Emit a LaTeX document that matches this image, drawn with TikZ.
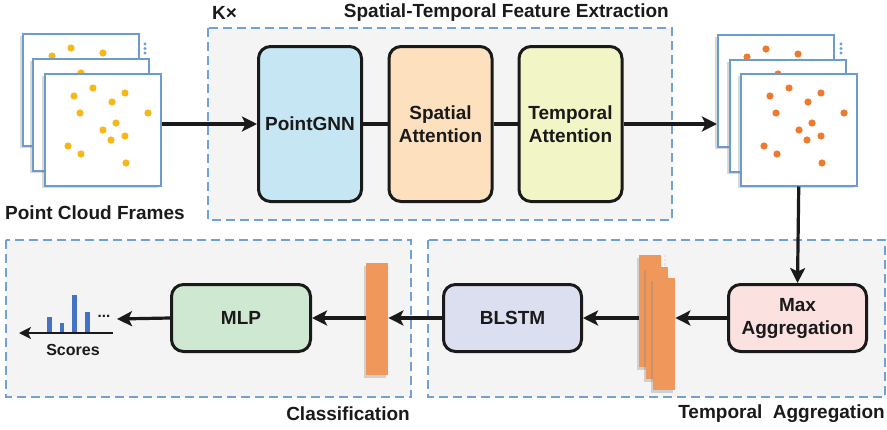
\documentclass[tikz,border=0pt]{standalone}
\usepackage{fontspec}
\setmainfont{Liberation Sans}
\usetikzlibrary{arrows.meta,shadows}
\definecolor{grpblue}{HTML}{6FA3D8}
\definecolor{grpfill}{HTML}{F4F4F4}
\definecolor{framebl}{HTML}{6C9CCF}
\definecolor{ptyel}{HTML}{F7B718}
\definecolor{ptora}{HTML}{EE7A30}
\definecolor{barora}{HTML}{F0975B}
\definecolor{scbar}{HTML}{4472C4}
\definecolor{cgnn}{HTML}{C5E6F2}
\definecolor{csatt}{HTML}{FDE1BF}
\definecolor{ctatt}{HTML}{F2F5C5}
\definecolor{cmlp}{HTML}{CFE8D1}
\definecolor{cblstm}{HTML}{DCDFF0}
\definecolor{cmax}{HTML}{FCE1E1}
\definecolor{ink}{HTML}{1A1A1A}
\tikzset{
  group/.style={draw=grpblue, fill=grpfill, line width=1.3pt, dash pattern=on 9pt off 5pt},
  block/.style={draw=ink, line width=3pt, rounded corners=12pt, align=center,
    text=ink, font=\fontsize{19}{23}\selectfont\bfseries},
  frame/.style={draw=framebl, line width=1.5pt, fill=white, minimum width=116pt,
    minimum height=112pt, inner sep=0pt, anchor=north west,
    drop shadow={shadow xshift=-2.5pt, shadow yshift=-2.5pt, opacity=0.3}},
  feat/.style={fill=barora, minimum width=22pt, minimum height=112pt, inner sep=0pt,
    anchor=north west, drop shadow={shadow xshift=-2.5pt, shadow yshift=-2.5pt, opacity=0.3}},
  arr/.style={draw=ink, line width=3.2pt, -{Stealth[length=15pt,width=15pt,inset=3.5pt]}},
  lbl/.style={text=ink, font=\fontsize{19}{22}\selectfont\bfseries, inner sep=0pt}
}
\newcommand\cloudpts[2]{%
  \foreach \a/\b in {30/23,49/15,81/20,68/29,36/40,104/40,72/50,59/57,81/63,67/67,24/73,37/81,82/90}
    \fill[#2] ([shift={(\a,\b)}]#1.north west) circle (3.6pt);}
\begin{document}
\begin{tikzpicture}[x=1pt, y=-1pt]
  \useasboundingbox (0,0) rectangle (887,429);
  \draw[group] (208,28) rectangle (672,220);
  \draw[group] (6,240) rectangle (411,397);
  \draw[group] (428,240) rectangle (885,397);

  \node[lbl, anchor=west] (kx) at (212,13) {K×};
  \node[lbl, anchor=east] (stfe) at (669,13) {Spatial-Temporal Feature Extraction};
  \node[lbl, anchor=west] (pcf) at (5,213) {Point Cloud Frames};
  \node[lbl, anchor=east] (cls) at (410,414) {Classification};
  \node[lbl, anchor=east] (tag) at (885,414) {Temporal\ \ Aggregation};

  \foreach \i/\x/\y in {1/22/33,2/32/58,3/44/73} {
    \node[frame] (fl\i) at (\x,\y) {};
    \cloudpts{fl\i}{ptyel}
  }
  \foreach \i/\x/\y in {1/717/34,2/729/59,3/740/73} {
    \node[frame] (fr\i) at (\x,\y) {};
    \cloudpts{fr\i}{ptora}
  }
  \foreach \y in {44,48.5,53} {
    \fill[framebl] (145,\y) circle (1.6pt);
    \fill[framebl] (841,\y) circle (1.6pt);
  }

  \node[block, fill=cgnn, minimum width=103pt, minimum height=155pt] (pgnn) at (310,124) {PointGNN};
  \node[block, fill=csatt, minimum width=103pt, minimum height=155pt] (satt) at (440.5,124) {Spatial\\Attention};
  \node[block, fill=ctatt, minimum width=103pt, minimum height=155pt] (tatt) at (570.5,124) {Temporal\\Attention};
  \node[block, fill=cmax, minimum width=138pt, minimum height=67pt] (maxagg) at (797.5,318) {Max\\Aggregation};
  \node[block, fill=cblstm, minimum width=138pt, minimum height=67pt] (blstm) at (512.5,318) {BLSTM};
  \node[block, fill=cmlp, minimum width=139pt, minimum height=67pt] (mlp) at (241,318) {MLP};

  \node[feat] (st1) at (639,255) {};
  \node[feat] (st2) at (646,267) {};
  \node[feat] (st3) at (653,278) {};
  \foreach \y in {256,260,264}
    \fill[barora!40] (665,\y) circle (1pt);
  \node[feat] (vec) at (366,263) {};

  \fill[scbar] (47,317) rectangle (52,333);
  \fill[scbar] (60,323) rectangle (64,333);
  \fill[scbar] (72,295) rectangle (77,333);
  \fill[scbar] (85,312) rectangle (90,333);
  \coordinate (axr) at (113,333);
  \coordinate (axl) at (19,333);
  \coordinate (scin) at (117,319);
  \node[text=ink, font=\fontsize{15}{15}\selectfont\bfseries, inner sep=0pt] (more) at (104,316) {...};
  \node[text=ink, font=\fontsize{16}{16}\selectfont\bfseries] (scores) at (73,350) {Scores};

  \draw[arr] (pgnn.west -| fl3.east) -- (pgnn.west);
  \draw[ink, line width=3.2pt] (pgnn) -- (satt);
  \draw[ink, line width=3.2pt] (satt) -- (tatt);
  \draw[arr] (tatt.east) -- (tatt.east -| fr1.west);
  \draw[arr] (fr3.south) -- (maxagg.north);
  \draw[arr] (maxagg.west) -- (maxagg.west -| st3.east);
  \draw[arr] (maxagg.west -| st1.west) -- (blstm.east);
  \draw[arr] (blstm.west) -- (blstm.west -| vec.east);
  \draw[arr] (blstm.west -| vec.west) -- (mlp.east);
  \draw[arr] (mlp.west) -- (scin);
  \draw[ink, line width=2pt, -{Stealth[length=12pt,width=12pt,inset=3pt]}] (axr) -- (axl);
\end{tikzpicture}
\end{document}
